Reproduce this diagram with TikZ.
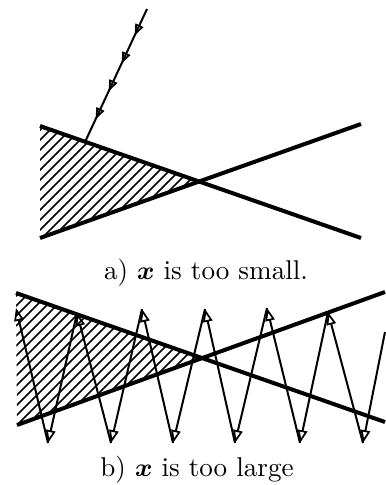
\documentclass[tikz,border=0pt]{standalone}
\usepackage{amsmath}
\usetikzlibrary{arrows.meta, decorations.markings}

\begin{document}
\begin{tikzpicture}[x=0.35pt, y=-0.35pt]

\tikzset{
mirror/.style={line width=1.4pt},
hatch/.style={line width=0.55pt},
ray/.style={line width=0.7pt, -{Triangle[open, length=4.5pt, width=3.3pt, line width=0.6pt]}},
caption/.style={font=\fontsize{9.5}{11}\selectfont, inner sep=0pt}
}

\useasboundingbox (0,0) rectangle (385,485);

% a) x too small
\coordinate (a1) at (40,126);
\coordinate (a2) at (361,238);
\coordinate (b1) at (40,238);
\coordinate (b2) at (361,124);
\coordinate (ca) at (intersection of a1--a2 and b1--b2);

\begin{scope}
\clip (a1) -- (b1) -- (ca) -- cycle;
\foreach \c in {170,180,...,390}
  \draw[hatch] (0,\c) -- (\c,0);
\end{scope}

\draw[mirror] (a1) -- (a2);
\draw[mirror] (b1) -- (b2);

\coordinate (src) at (147,9);
\coordinate (hit) at (85,142);
\draw[line width=0.7pt,
  decoration={markings,
    mark=at position 0.2 with {\arrow{Triangle[open, length=4pt, width=3pt, line width=0.6pt]}},
    mark=at position 0.41 with {\arrow{Triangle[open, length=4pt, width=3pt, line width=0.6pt]}},
    mark=at position 0.62 with {\arrow{Triangle[open, length=4pt, width=3pt, line width=0.6pt]}},
    mark=at position 0.83 with {\arrow{Triangle[open, length=4pt, width=3pt, line width=0.6pt]}}},
  postaction={decorate}] (src) -- (hit);

\node[caption] (capa) at (206,273) {a) $\boldsymbol{x}$ is too small.};

% b) x too large
\coordinate (c1) at (16,293);
\coordinate (c2) at (385,422);
\coordinate (d1) at (17,425);
\coordinate (d2) at (385,292);
\coordinate (cb) at (intersection of c1--c2 and d1--d2);

\begin{scope}
\clip (c1) -- (d1) -- (cb) -- cycle;
\foreach \c in {312,322,...,570}
  \draw[hatch] (0,\c) -- (\c,0);
\end{scope}

\draw[mirror] (c1) -- (c2);
\draw[mirror] (d1) -- (d2);

% zigzag
\coordinate (t1) at (16,308);
\coordinate (t2) at (77,313);
\coordinate (t3) at (142,309);
\coordinate (t4) at (205,309);
\coordinate (t5) at (267,308);
\coordinate (t6) at (328,312);
\coordinate (b1) at (48,443);
\coordinate (b2) at (111,443);
\coordinate (b3) at (173,443);
\coordinate (b4) at (235,443);
\coordinate (b5) at (300,443);
\coordinate (b6) at (363,443);
\coordinate (e) at (385,332);

\foreach \p/\q in {e/b6, b6/t6, t6/b5, b5/t5, t5/b4, b4/t4, t4/b3, b3/t3, t3/b2, b2/t2, t2/b1, b1/t1}
  \draw[ray] (\p) -- (\q);

\node[caption] (capb) at (197,470) {b) $\boldsymbol{x}$ is too large};

\end{tikzpicture}
\end{document}
